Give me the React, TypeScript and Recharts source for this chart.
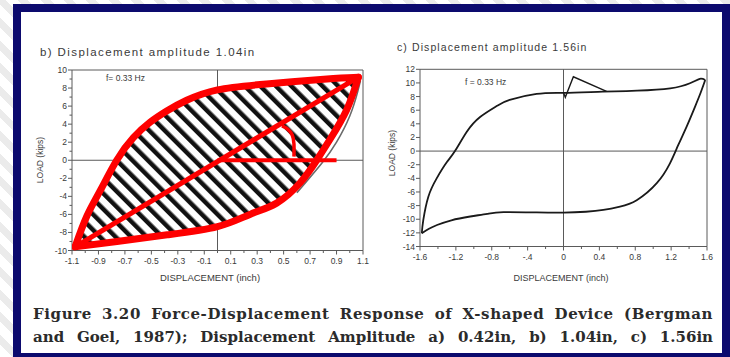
import React from 'react';
import { ScatterChart, Scatter, XAxis, YAxis, ReferenceLine, ReferenceArea, Curve } from 'recharts';

// b) amplitude 1.04in - red tracing over the hatched loop (inch / kips)
const bUpperX = [-1.077, -0.989, -0.888, -0.762, -0.636, -0.51, -0.384, -0.233, 0, 0.37, 0.876, 1.065];
const bUpperY = [-9.6, -6.23, -3.4, 0, 2.5, 4.2, 5.45, 6.65, 7.8, 8.45, 9.05, 9.2];
const bLowerX = [-1.077, -0.76, -0.38, 0, 0.245, 0.447, 0.625, 0.75, 0.85, 0.977, 1.065];
const bLowerY = [-9.6, -9.0, -8.26, -7.35, -6.0, -4.75, -2.5, 0, 2.3, 5.6, 9.2];
// original black trace peeking out beside the red one
const bTraceX = [0.6, 0.79, 0.9, 1.0, 1.06, 1.08];
const bTraceY = [-3.6, -0.3, 2.0, 4.9, 7.6, 8.8];
const bDiagX = [-1.077, 1.065];
const bDiagY = [-9.6, 9.2];
const bBaseX = [0, 0.9];
const bBaseY = [0, 0];
const bArcX = [0.488, 0.53, 0.565, 0.578, 0.578];
const bArcY = [3.8, 3.45, 2.8, 1.8, 0.4];

const bXMajor = [-1.1, -0.9, -0.7, -0.5, -0.3, -0.1, 0.1, 0.3, 0.5, 0.7, 0.9, 1.1];
const bXLabels = ['-1.1', '-0.9', '-0.7', '-0.5', '-0.3', '-0.1', '0.1', '0.3', '0.5', '0.7', '0.9', '1.1'];
const bXMinor = [-1.0, -0.8, -0.6, -0.4, -0.2, 0, 0.2, 0.4, 0.6, 0.8, 1.0];
const bYMajor = [-10, -8, -6, -4, -2, 0, 2, 4, 6, 8, 10];
const bYLabels = ['-10', '-8', '-6', '-4', '-2', '0', '2', '4', '6', '8', '10'];
const bYMinor = [-9, -7, -5, -3, -1, 1, 3, 5, 7, 9];

// c) amplitude 1.56in
const cSpikeX = [0.0, 0.02, 0.11, 0.48];
const cSpikeY = [8.55, 7.9, 10.9, 8.75];
const cUpperX = [-1.58, -1.563, -1.507, -1.414, -1.302, -1.21, -1.08, -0.93, -0.745, -0.6, -0.3, 0, 0.44, 0.82, 1.19, 1.41, 1.52, 1.58];
const cUpperY = [-12.06, -10.1, -6.69, -4.0, -1.65, 0, 2.8, 5.0, 6.6, 7.5, 8.38, 8.55, 8.72, 8.86, 9.2, 9.95, 10.6, 10.43];
const cLowerX = [-1.58, -1.5, -1.41, -1.25, -1.04, -0.85, -0.67, -0.3, 0, 0.25, 0.444, 0.63, 0.816, 1.04, 1.187, 1.28, 1.373, 1.466, 1.53, 1.58];
const cLowerY = [-12.06, -11.4, -10.85, -10.15, -9.6, -9.2, -8.95, -9.0, -9.03, -8.9, -8.64, -8.15, -7.2, -4.7, -1.8, 0.9, 3.6, 6.5, 8.6, 10.43];

const cXMajor = [-1.6, -1.2, -0.8, -0.4, 0, 0.4, 0.8, 1.2, 1.6];
const cXLabels = ['-1.6', '-1.2', '-0.8', '-.4', '0', '0.4', '0.8', '1.2', '1.6'];
const cXMinor = [-1.4, -1.0, -0.6, -0.2, 0.2, 0.6, 1.0, 1.4];
const cYMajor = [-14, -12, -10, -8, -6, -4, -2, 0, 2, 4, 6, 8, 10, 12];
const cYLabels = ['-14', '-12', '-10', '-8', '-6', '-4', '-2', '0', '2', '4', '6', '8', '10', '12'];

const zip = (xs: number[], ys: number[]) => xs.map((x, i) => ({ x, y: ys[i] }));

const SANS = '"Liberation Sans", Arial, sans-serif';
const AXIS = '#5a5a5a';
const RED = '#fe0000';
const NAVY = '#0c0a6e';

const noDot = () => <g />;

// scatter connecting line drawn as a smooth curve through the scaled points
const smooth = (style: any) => (props: any) => <Curve {...props} {...style} type="natural" />;

const xTick = (majors: number[], labels: string[]) => (props: any) => {
  const { x, y, payload } = props;
  const i = majors.findIndex((m) => Math.abs(m - payload.value) < 1e-6);
  return (
    <g>
      <line x1={x} x2={x} y1={y} y2={y + (i >= 0 ? 4 : 2.5)} stroke={AXIS} />
      {i >= 0 && (
        <text x={x} y={y + 13} textAnchor="middle" fontSize={8.5} fill="#3a3a3a" fontFamily={SANS}>
          {labels[i]}
        </text>
      )}
    </g>
  );
};

const yTick = (majors: number[], labels: string[]) => (props: any) => {
  const { x, y, payload } = props;
  const i = majors.findIndex((m) => Math.abs(m - payload.value) < 1e-6);
  return (
    <g>
      <line x1={x} x2={x - (i >= 0 ? 4 : 2.5)} y1={y} y2={y} stroke={AXIS} />
      {i >= 0 && (
        <text x={x - 5} y={y + 3} textAnchor="end" fontSize={8.5} fill="#3a3a3a" fontFamily={SANS}>
          {labels[i]}
        </text>
      )}
    </g>
  );
};

const label = (style: React.CSSProperties, text: string) => (
  <div style={{ position: 'absolute', fontFamily: SANS, color: '#3a3a3a', whiteSpace: 'nowrap', lineHeight: 1, ...style }}>
    {text}
  </div>
);

function PanelB() {
  const hatch = { fill: 'url(#hatch)', stroke: 'none' };
  const redLine = { fill: 'none', stroke: RED, strokeWidth: 7, strokeLinejoin: 'round', strokeLinecap: 'round' };
  return (
    <div style={{ position: 'absolute', left: 0, top: 0 }}>
      <ScatterChart width={375} height={300} margin={{ top: 70, right: 12, bottom: 29.5, left: 42 }}>
        <XAxis type="number" dataKey="x" domain={[-1.1, 1.1]} ticks={[...bXMajor, ...bXMinor].sort((a, b) => a - b)}
          allowDataOverflow axisLine={false} tickSize={0} tickMargin={0} height={20} tick={xTick(bXMajor, bXLabels)} interval={0} />
        <YAxis type="number" dataKey="y" domain={[-10, 10]} ticks={[...bYMajor, ...bYMinor].sort((a, b) => a - b)}
          allowDataOverflow axisLine={false} tickSize={0} tickMargin={0} width={30} tick={yTick(bYMajor, bYLabels)} interval={0} />
        <ReferenceArea x1={-1.1} x2={1.1} y1={-10} y2={10} fill="none" stroke={AXIS} strokeWidth={1} />
        <ReferenceLine x={0} stroke={AXIS} />
        <ReferenceLine y={0} stroke={AXIS} />
        <Scatter data={zip(bUpperX, bUpperY)} shape={noDot} isAnimationActive={false} line={smooth(hatch)} />
        <Scatter data={zip(bLowerX, bLowerY)} shape={noDot} isAnimationActive={false} line={smooth(hatch)} />
        <Scatter data={zip(bTraceX, bTraceY)} shape={noDot} isAnimationActive={false}
          line={smooth({ fill: 'none', stroke: '#6a6a6a', strokeWidth: 1.6 })} />
        <Scatter data={zip(bUpperX, bUpperY)} shape={noDot} isAnimationActive={false} line={smooth(redLine)} />
        <Scatter data={zip(bLowerX, bLowerY)} shape={noDot} isAnimationActive={false} line={smooth(redLine)} />
        <Scatter data={zip(bDiagX, bDiagY)} shape={noDot} isAnimationActive={false}
          line={{ fill: 'none', stroke: RED, strokeWidth: 5 }} />
        <Scatter data={zip(bBaseX, bBaseY)} shape={noDot} isAnimationActive={false}
          line={{ fill: 'none', stroke: RED, strokeWidth: 4 }} />
        <Scatter data={zip(bArcX, bArcY)} shape={noDot} isAnimationActive={false}
          line={smooth({ fill: 'none', stroke: RED, strokeWidth: 3.5 })} />
      </ScatterChart>
    </div>
  );
}

function PanelC() {
  const black = { fill: 'none', stroke: '#1a1a1a', strokeWidth: 1.8 };
  return (
    <div style={{ position: 'absolute', left: 375, top: 0 }}>
      <ScatterChart width={345} height={300} margin={{ top: 69.3, right: 13, bottom: 33.5, left: 15 }}>
        <XAxis type="number" dataKey="x" domain={[-1.6, 1.6]} ticks={[...cXMajor, ...cXMinor].sort((a, b) => a - b)}
          allowDataOverflow axisLine={false} tickSize={0} tickMargin={0} height={20} tick={xTick(cXMajor, cXLabels)} interval={0} />
        <YAxis type="number" dataKey="y" domain={[-14, 12]} ticks={cYMajor}
          allowDataOverflow axisLine={false} tickSize={0} tickMargin={0} width={30} tick={yTick(cYMajor, cYLabels)} interval={0} />
        <ReferenceArea x1={-1.6} x2={1.6} y1={-14} y2={12} fill="none" stroke={AXIS} strokeWidth={1} />
        <ReferenceLine x={0} stroke={AXIS} />
        <ReferenceLine y={0} stroke={AXIS} />
        <Scatter data={zip(cUpperX, cUpperY)} shape={noDot} isAnimationActive={false} line={smooth(black)} />
        <Scatter data={zip(cLowerX, cLowerY)} shape={noDot} isAnimationActive={false} line={smooth(black)} />
        <Scatter data={zip(cSpikeX, cSpikeY)} shape={noDot} isAnimationActive={false} line={{ ...black, strokeWidth: 1.4 }} />
      </ScatterChart>
    </div>
  );
}

export default function App() {
  return (
    <div
      style={{
        position: 'absolute', left: 0, top: 0, width: 730, height: 357, overflow: 'hidden',
        background: 'repeating-linear-gradient(45deg, #ffffff 0px, #ffffff 9px, #ebebeb 9px, #ebebeb 16px)',
      }}
    >
      <svg width={0} height={0} style={{ position: 'absolute' }}>
        <defs>
          <pattern id="hatch" patternUnits="userSpaceOnUse" width={11} height={11} patternTransform="rotate(-45)">
            <rect x={0} y={0} width={11} height={11} fill="#fff" />
            <rect x={0} y={0} width={4.5} height={11} fill="#111" />
          </pattern>
        </defs>
      </svg>
      <div
        style={{
          position: 'absolute', left: 13, top: 4, width: 701, height: 341, background: '#fff',
          borderStyle: 'solid', borderColor: NAVY, borderWidth: '8px 8px 4px 8px',
        }}
      />
      <PanelB />
      <PanelC />

      {label({ left: 40, top: 47, fontSize: 11.5, letterSpacing: 1.4 }, 'b) Displacement amplitude 1.04in')}
      {label({ left: 106, top: 74, fontSize: 8.5 }, 'f= 0.33 Hz')}
      {label({ left: 40, top: 160, fontSize: 8.5, transform: 'translate(-50%, -50%) rotate(-90deg)' }, 'LOAD (kips)')}
      {label({ left: 210, top: 278, fontSize: 9.5, transform: 'translate(-50%, -50%)' }, 'DISPLACEMENT (inch)')}

      {label({ left: 397, top: 42, fontSize: 10.5, letterSpacing: 1.1 }, 'c) Displacement amplitude 1.56in')}
      {label({ left: 465, top: 78, fontSize: 8.5 }, 'f = 0.33 Hz')}
      {label({ left: 392, top: 153, fontSize: 8.5, transform: 'translate(-50%, -50%) rotate(-90deg)' }, 'LOAD (kips)')}
      {label({ left: 561, top: 278, fontSize: 9, transform: 'translate(-50%, -50%)' }, 'DISPLACEMENT (inch)')}

      <div style={{ position: 'absolute', left: 33, top: 303, width: 680, fontFamily: '"DejaVu Serif", serif', fontWeight: 'bold', fontSize: 15, color: '#2b2b2b', lineHeight: '23px' }}>
        <div style={{ textAlign: 'justify', textAlignLast: 'justify', letterSpacing: 0.6 }}>
          Figure 3.20 Force-Displacement Response of X-shaped Device (Bergman
        </div>
        <div style={{ textAlign: 'justify', textAlignLast: 'justify' }}>
          and Goel, 1987); Displacement Amplitude a) 0.42in, b) 1.04in, c) 1.56in
        </div>
      </div>
    </div>
  );
}
